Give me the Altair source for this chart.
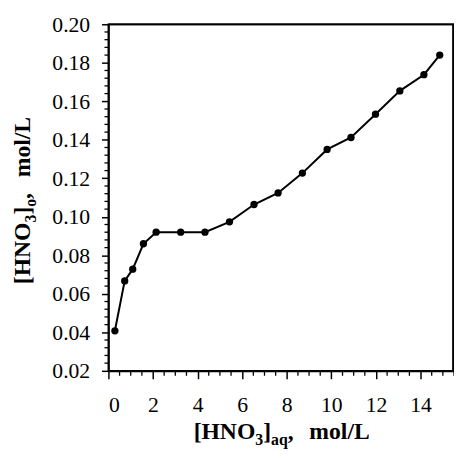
import altair as alt
import pandas as pd

# data
hno3_aq = [0.29, 0.73, 1.09, 1.57, 2.14, 3.24, 4.33, 5.43, 6.53, 7.61, 8.70, 9.81,
           10.88, 11.98, 13.07, 14.15, 14.86]
hno3_org = [0.0408, 0.0667, 0.0728, 0.0860, 0.0920, 0.0920, 0.0920, 0.0974, 0.1064,
            0.1124, 0.1227, 0.1350, 0.1412, 0.1533, 0.1654, 0.1738, 0.1840]

x_major = [0, 2, 4, 6, 8, 10, 12, 14]
x_minor = [0.5, 1, 1.5, 2.5, 3, 3.5, 4.5, 5, 5.5, 6.5, 7, 7.5, 8.5, 9, 9.5,
           10.5, 11, 11.5, 12.5, 13, 13.5, 14.5, 15, 15.5]
y_major = [0.02, 0.04, 0.06, 0.08, 0.10, 0.12, 0.14, 0.16, 0.18, 0.20]
y_minor = [0.024, 0.028, 0.032, 0.036, 0.044, 0.048, 0.052, 0.056,
           0.064, 0.068, 0.072, 0.076, 0.084, 0.088, 0.092, 0.096,
           0.104, 0.108, 0.112, 0.116, 0.124, 0.128, 0.132, 0.136,
           0.144, 0.148, 0.152, 0.156, 0.164, 0.168, 0.172, 0.176,
           0.184, 0.188, 0.192, 0.196]

df = pd.DataFrame({"x": hno3_aq, "y": hno3_org})
dfx = pd.DataFrame({"x": x_minor})
dfy = pd.DataFrame({"y": y_minor})

FONT = "Liberation Serif"
W, H = 351, 352
xs = alt.Scale(domain=[0, 15.5], nice=False, zero=False)
ys = alt.Scale(domain=[0.02, 0.20], nice=False, zero=False)
xax = alt.Axis(values=x_major, title=None, tickSize=8, labelPadding=16, grid=False,
               orient="bottom")
yax = alt.Axis(values=y_major, format=".2f", title=None, tickSize=7, labelPadding=12,
               grid=False, orient="left")
X = alt.X("x:Q", scale=xs, axis=xax)
Y = alt.Y("y:Q", scale=ys, axis=yax)

line = alt.Chart(df).mark_line(color="black", strokeWidth=2).encode(x=X, y=Y)
points = alt.Chart(df).mark_point(filled=True, color="black", size=55,
                                  opacity=1).encode(x=X, y=Y)

# minor ticks
xminor = alt.Chart(dfx).mark_rule(color="black", strokeWidth=1.3).encode(
    x=X, y=alt.value(H), y2=alt.value(H + 5))
yminor = alt.Chart(dfy).mark_rule(color="black", strokeWidth=1.3).encode(
    y=Y, x=alt.value(-4), x2=alt.value(0))

# frame (top and right)
top = alt.Chart(alt.Data(values=[{"k": 1}])).mark_rule(
    color="black", strokeWidth=1.8).encode(
    x=alt.value(0), x2=alt.value(W), y=alt.value(0))
right = alt.Chart(alt.Data(values=[{"k": 1}])).mark_rule(
    color="black", strokeWidth=1.8).encode(
    x=alt.value(W - 1), y=alt.value(0), y2=alt.value(H))

# width table (Times/Liberation Serif Bold, per 1000 em)
WID = {"[": 333, "H": 778, "N": 722, "O": 778, "]": 333, "3": 500, "a": 500,
       "q": 556, ",": 250, " ": 250, "m": 833, "o": 500, "l": 278, "/": 278,
       "L": 667}


def tw(t, size):
    return sum(WID[c] for c in t) * size / 1000.0


S, s = 24, 16
GAP = 16
x_title = [("[HNO", S, 0), ("3", s, 1), ("]", S, 0), ("aq", s, 1), (",", S, 0),
           ("mol/L", S, 0)]
y_title = [("[HNO", S, 0), ("3", s, 1), ("]", S, 0), ("o", s, 1), (",", S, 0),
           ("mol/L", S, 0)]

layers = [xminor, yminor, line, points, top, right]
one = alt.Data(values=[{"k": 1}])


def advance(t, z):
    return tw(t, z) + (GAP if t == "," else 0)


total = sum(advance(t, z) for t, z, _ in x_title)
cx = 176 - total / 2
for t, z, sub in x_title:
    layers.append(alt.Chart(one).mark_text(
        text=t, font=FONT, fontSize=z, fontWeight="bold", align="left",
        baseline="alphabetic", color="black").encode(
        x=alt.value(cx), y=alt.value(427 if sub else 421)))
    cx += advance(t, z)

total = sum(advance(t, z) for t, z, _ in y_title)
cy = 179 + total / 2
for t, z, sub in y_title:
    layers.append(alt.Chart(one).mark_text(
        text=t, font=FONT, fontSize=z, fontWeight="bold", align="left",
        baseline="alphabetic", angle=270, color="black").encode(
        x=alt.value(-74 if sub else -80), y=alt.value(cy)))
    cy -= advance(t, z)

chart = alt.layer(*layers).properties(
    width=W, height=H,
    autosize=alt.AutoSizeParams(type="none"),
    padding={"left": 102, "top": 13, "right": 0, "bottom": 85},
    background="white",
).configure_view(
    stroke="black", strokeWidth=1.8
).configure_axis(
    labelFont=FONT, labelFontSize=22, labelColor="black",
    domainColor="black", domainWidth=1.8, tickColor="black", tickWidth=1.5,
)

chart.save("out.html", embed_options={"renderer": "svg", "actions": False})
